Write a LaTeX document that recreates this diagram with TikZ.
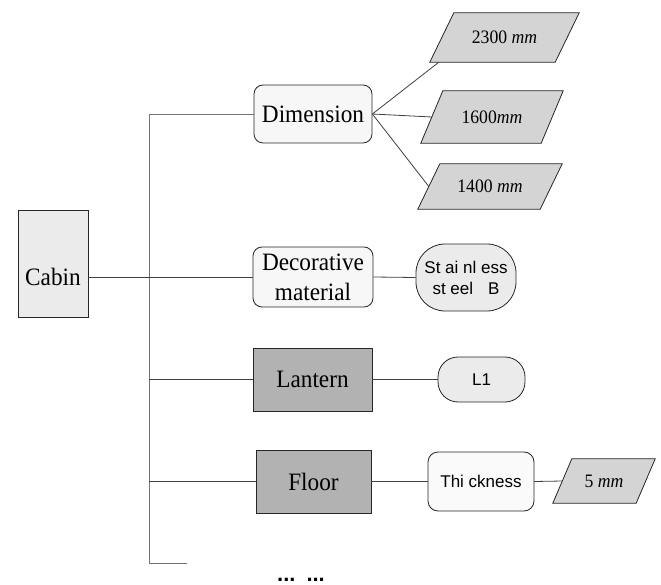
\documentclass[tikz,border=0pt]{standalone}
\usepackage{fontspec}
\setmainfont{Liberation Serif}
\newfontfamily\boxfont[FakeStretch=0.93]{Liberation Serif}
\newfontfamily\labelsans{Liberation Sans}
\usetikzlibrary{calc,backgrounds}

\tikzset{
  base/.style={inner sep=0pt, align=center, line width=0.8pt, draw=black!85},
  mainlbl/.style={inner sep=0pt, align=center, font=\boxfont\fontsize{25}{30}\selectfont},
  cabinbox/.style={base, fill=black!8},
  rbox/.style={base, mainlbl, rounded corners=9pt, fill=black!3},
  gbox/.style={base, mainlbl, fill=black!30},
  blob/.style={base, rounded corners=22pt, fill=black!8,
    font=\labelsans\fontsize{17}{21}\selectfont},
  sbox/.style={base, rounded corners=10pt, fill=black!2,
    font=\labelsans\fontsize{17}{21}\selectfont},
  para/.style={inner sep=0pt, align=center,
    font=\boxfont\fontsize{19}{22}\selectfont},
  parashape/.style={line width=0.8pt, draw=black!85, fill=black!17},
  link/.style={draw=black!75, line width=0.8pt},
  trunk/.style={draw=black!55, line width=0.8pt},
}

% slanted box drawn behind a rectangular node #1, top edge shifted right by #2
\newcommand{\slantbox}[2]{%
  \begin{scope}[on background layer]
    \draw[parashape] ($(#1.north west)+(#2,0)$) -- (#1.north east)
      -- ($(#1.south east)-(#2,0)$) -- (#1.south west) -- cycle;
  \end{scope}}

\begin{document}
\begin{tikzpicture}[x=1pt, y=-1pt]
\useasboundingbox (0,0) rectangle (661,585);

% main branches
\node[rbox, minimum width=118, minimum height=58] (dim) at (313,114) {Dimension};
\node[rbox, minimum width=120, minimum height=60] (deco) at (313,277) {Decorative\\material};
\node[gbox, minimum width=119, minimum height=63] (lantern) at (312.5,379.5) {Lantern};
\node[gbox, minimum width=115, minimum height=63] (floor) at (313.5,481.5) {Floor};

% root
\node[cabinbox, minimum width=70, minimum height=107] (cabin) at (53,263.5) {};
\node[mainlbl] (cabintxt) at (cabin.center |- deco.center) {Cabin};

% dimension values
\node[para, minimum width=149, minimum height=49] (p1) at (504.5,37.5) {2300 \textit{mm}};
\slantbox{p1}{24}
\node[para, minimum width=142, minimum height=52] (p2) at (492,117) {1600\textit{mm}};
\slantbox{p2}{22}
\node[para, minimum width=144, minimum height=45] (p3) at (490,186.5) {1400 \textit{mm}};
\slantbox{p3}{22}

% leaves
\node[blob, minimum width=100, minimum height=67, rounded corners=29pt] (steel) at (466,277.5) {St ai nl ess\\st eel\hspace{0.6em} B};
\node[blob, minimum width=87, minimum height=45, rounded corners=20pt] (l1) at (481.5,379.5) {L1};
\node[sbox, minimum width=106, minimum height=59] (thick) at (481,481.5) {Thi ckness};
\node[para, minimum width=102, minimum height=44] (p4) at (604,481) {5 \textit{mm}};
\slantbox{p4}{19}

% trunk
\coordinate (tbot) at (149,563);
\coordinate (tend) at (187,563);
\draw[trunk] (dim.west) -| (tbot) -- (tend);

% connectors
\draw[link] (cabin.east |- deco.west) -- (deco.west);
\draw[link] (lantern.west -| tbot) -- (lantern.west);
\draw[link] (floor.west -| tbot) -- (floor.west);
\draw[link] (dim.east) -- ($(p1.south west)+(9,0)$);
\draw[link] (dim.east) -- ($(p2.west)+(11,0)$);
\draw[link] (dim.east) -- ($(p3.west)+(11,0)$);
\draw[link] (deco.east) -- (steel.west);
\draw[link] (lantern.east) -- (l1.west);
\draw[link] (floor.east) -- (thick.west);
\draw[link] (thick.east) -- ($(p4.west)+(9.5,0)$);

% continuation marks
\node[inner sep=0pt, anchor=base, font=\labelsans\bfseries\fontsize{22}{22}\selectfont] (more) at (301,581) {...\hspace{11pt}...};
\end{tikzpicture}
\end{document}
